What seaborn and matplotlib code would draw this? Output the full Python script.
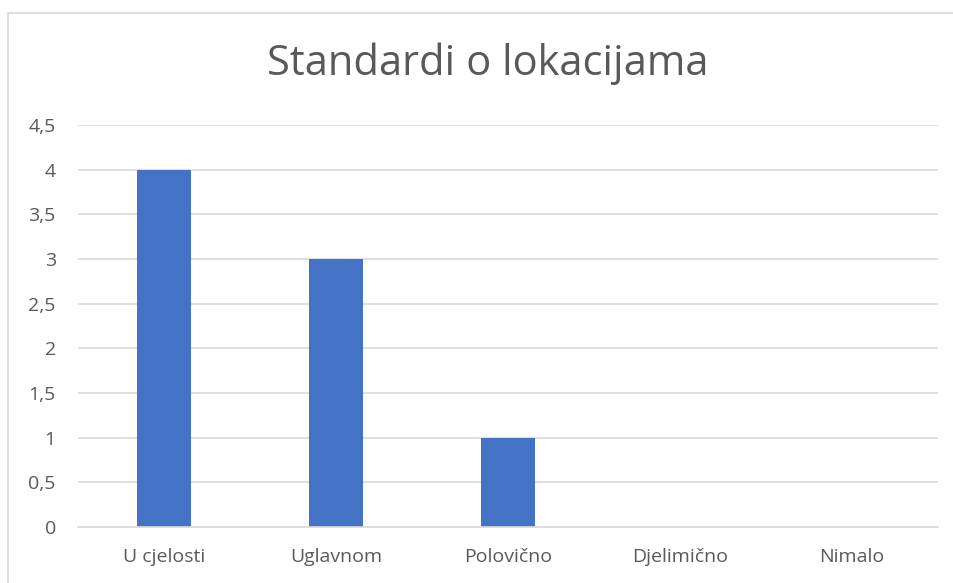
import matplotlib
matplotlib.use('Agg')
import matplotlib.pyplot as plt
import seaborn as sns
import pandas as pd
from matplotlib.patches import Rectangle

# podaci
kategorije = ['U cjelosti', 'Uglavnom', 'Polovično', 'Djelimično', 'Nimalo']
vrijednosti = [4, 3, 1, 0, 0]
y_ticks = [0, 0.5, 1, 1.5, 2, 2.5, 3, 3.5, 4, 4.5]
y_labels = ['0', '0,5', '1', '1,5', '2', '2,5', '3', '3,5', '4', '4,5']

df = pd.DataFrame({'kategorija': kategorije, 'vrijednost': vrijednosti})

sns.set_theme(style='white')
plt.rcParams['font.family'] = ['Open Sans', 'DejaVu Sans']

fig = plt.figure(figsize=(9.54, 5.83), dpi=100)
ax = fig.add_axes([78/954, 1 - 527/583, (938 - 78)/954, (527 - 125)/583])

sns.barplot(data=df, x='kategorija', y='vrijednost', color='#4472C4',
            width=0.314, saturation=1, linewidth=0, ax=ax)

ax.set_ylim(0, 4.5)
ax.set_xlim(-0.5, 4.5)
ax.set_yticks(y_ticks)
ax.set_yticklabels(y_labels)
ax.yaxis.grid(True, color='#D9D9D9', linewidth=1.2)
ax.set_axisbelow(True)
for s in ax.spines.values():
    s.set_visible(False)
ax.spines['bottom'].set_visible(True)
ax.spines['bottom'].set_color('#D9D9D9')
ax.spines['bottom'].set_linewidth(1.2)
ax.tick_params(axis='both', length=0, labelsize=14, labelcolor='#595959')
ax.tick_params(axis='x', pad=15)
ax.tick_params(axis='y', pad=16)
ax.set_xlabel('')
ax.set_ylabel('')

fig.text(488/954, 1 - 64/583, 'Standardi o lokacijama', ha='center', va='center',
         fontsize=30, color='#595959')

# okvir grafikona
fig.patches.append(Rectangle((8/954, -0.1), 1.2, 1.1 - 13/583, transform=fig.transFigure,
                             fill=False, edgecolor='#D9D9D9', linewidth=1.2))

fig.savefig('out.png', dpi=100)
